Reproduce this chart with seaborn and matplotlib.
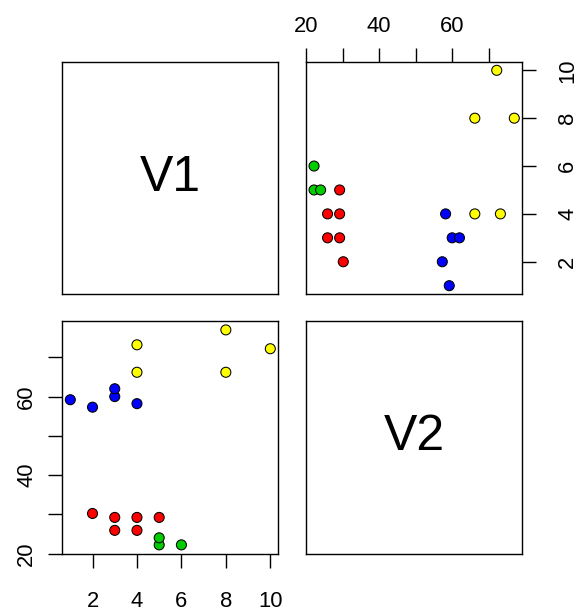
import matplotlib
matplotlib.use("Agg")
import matplotlib.pyplot as plt
import seaborn as sns
import pandas as pd

# Data
v1 = [1, 2, 3, 3, 4, 2, 3, 3, 4, 4, 5, 5, 5, 6, 4, 4, 8, 8, 10]
v2 = [59.2, 57.3, 60.0, 62.0, 58.2,
      30.2, 29.2, 25.9, 29.2, 25.9, 29.2,
      22.2, 24.0, 22.2,
      73.2, 66.2, 77.0, 66.2, 72.2]
group = ["blue"] * 5 + ["red"] * 6 + ["green"] * 3 + ["yellow"] * 5
var_names = ["V1", "V2"]
v1_ticks = [2, 4, 6, 8, 10]
v2_ticks = [20, 30, 40, 50, 60, 70]
v2_labels = ["20", "", "40", "", "60", ""]
palette = {"red": "#FF0000", "green": "#00CD00", "blue": "#0000FF", "yellow": "#FFFF00"}

df = pd.DataFrame({"V1": v1, "V2": v2, "grp": group})

sns.set_style("white")
plt.rcParams["font.family"] = ["Liberation Sans", "DejaVu Sans"]
plt.rcParams.update({"text.color": "black", "xtick.color": "black",
                     "ytick.color": "black", "axes.labelcolor": "black",
                     "axes.edgecolor": "black"})

W, H = 577, 616
fig = plt.figure(figsize=(W / 100, H / 100), dpi=100)

def fr(x0, top, x1, bottom):
    return [x0 / W, 1 - bottom / H, (x1 - x0) / W, (bottom - top) / H]

ax_ul = fig.add_axes(fr(62.3, 61.7, 278.3, 294.3))
ax_ur = fig.add_axes(fr(306.0, 61.7, 522.3, 294.3))
ax_ll = fig.add_axes(fr(62.3, 321.3, 278.3, 553.5))
ax_lr = fig.add_axes(fr(306.0, 321.3, 522.3, 553.5))

def lims(vals):
    lo, hi = min(vals), max(vals)
    d = (hi - lo) * 0.04
    return lo - d, hi + d

for ax in (ax_ul, ax_ur, ax_ll, ax_lr):
    for s in ax.spines.values():
        s.set_visible(True)
        s.set_color("black")
        s.set_linewidth(1.0)

# diagonal
for ax, name in ((ax_ul, var_names[0]), (ax_lr, var_names[1])):
    ax.set_xticks([])
    ax.set_yticks([])
    ax.text(0.5, 0.5, name, transform=ax.transAxes, ha="center", va="center",
            fontsize=36, color="black")

common = dict(palette=palette, legend=False, s=52, edgecolor="black",
              linewidth=0.75, zorder=3)

# upper right: x = V2, y = V1
sns.scatterplot(data=df, x="V2", y="V1", hue="grp", ax=ax_ur, **common)
ax_ur.set_xlim(*lims(v2))
ax_ur.set_ylim(*lims(v1))
ax_ur.set_xlabel("")
ax_ur.set_ylabel("")
ax_ur.set_xticks(v2_ticks)
ax_ur.set_xticklabels(v2_labels)
ax_ur.set_yticks(v1_ticks)
ax_ur.set_yticklabels([str(t) for t in v1_ticks])
ax_ur.tick_params(axis="x", top=True, bottom=False, labeltop=True, labelbottom=False,
                  direction="out", length=10, width=1.0, pad=8, labelsize=15.8,
                  colors="black")
ax_ur.tick_params(axis="y", right=True, left=False, labelright=True, labelleft=False,
                  direction="out", length=10, width=1.0, pad=15, labelsize=15.8,
                  labelrotation=90, colors="black")
for lab in ax_ur.get_yticklabels():
    lab.set_va("center")

# lower left: x = V1, y = V2
sns.scatterplot(data=df, x="V1", y="V2", hue="grp", ax=ax_ll, **common)
ax_ll.set_xlim(*lims(v1))
ax_ll.set_ylim(*lims(v2))
ax_ll.set_xlabel("")
ax_ll.set_ylabel("")
ax_ll.set_xticks(v1_ticks)
ax_ll.set_xticklabels([str(t) for t in v1_ticks])
ax_ll.set_yticks(v2_ticks)
ax_ll.set_yticklabels(v2_labels)
ax_ll.tick_params(axis="x", bottom=True, top=False, direction="out", length=10,
                  width=1.0, pad=17, labelsize=15.8, colors="black")
ax_ll.tick_params(axis="y", left=True, right=False, direction="out", length=10,
                  width=1.0, pad=8, labelsize=15.8, labelrotation=90, colors="black")
for lab in ax_ll.get_yticklabels():
    lab.set_va("center")

fig.savefig("out.png", dpi=100, facecolor="white")
